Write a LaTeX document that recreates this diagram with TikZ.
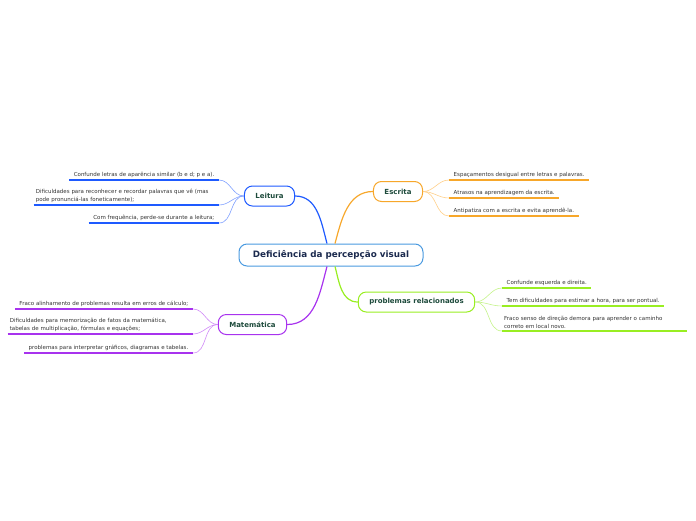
\documentclass[tikz,border=0pt]{standalone}
\usepackage{fontspec}
\setmainfont{DejaVu Sans}
\usepackage{xcolor}
\usetikzlibrary{positioning}
\definecolor{leitblue}{HTML}{1E5AFF}
\definecolor{leitsub}{HTML}{7FA0FF}
\definecolor{escorange}{HTML}{F7A72A}
\definecolor{escsub}{HTML}{FFD08A}
\definecolor{probgreen}{HTML}{99EE22}
\definecolor{probsub}{HTML}{C4F38A}
\definecolor{matpurple}{HTML}{A833EE}
\definecolor{matsub}{HTML}{D08AF7}
\definecolor{rootline}{HTML}{4A9AE0}
\definecolor{roottext}{HTML}{1B2A4E}
\definecolor{topictext}{HTML}{1E4B3C}
\tikzset{
  root/.style={
    draw=rootline,
    line width=1pt,
    rounded corners=8pt,
    fill=white,
    minimum width=184pt,
    minimum height=22pt,
    font=\fontsize{8.8}{10}\selectfont\bfseries,
    text=roottext
  },
  topic/.style={
    line width=1pt,
    rounded corners=8pt,
    fill=white,
    inner xsep=11pt,
    minimum height=20pt,
    font=\fontsize{7}{8}\selectfont\bfseries,
    text=topictext
  },
  leaf/.style={
    align=left,
    inner xsep=4.5pt,
    inner ysep=2.5pt,
    font=\fontsize{5.5}{8}\selectfont,
    text=black!80
  },
  wrapped/.style={leaf, inner xsep=2pt, text width=181pt},
  branch/.style={line width=1.2pt},
  twig/.style={line width=0.6pt},
  underline/.style={line width=1.5pt}
}
\begin{document}
\begin{tikzpicture}[x=1pt,y=-1pt]
  \useasboundingbox (0,0) rectangle (696,520);

  \node[root] (root) at (331,255) {Deficiência da percepção visual};

  \node[topic, draw=leitblue] (leitura) at (269.5,196) {Leitura};
  \node[topic, draw=escorange] (escrita) at (398,191.5) {Escrita};
  \node[topic, draw=probgreen] (problemas) at (416.5,302) {problemas relacionados};
  \node[topic, draw=matpurple] (matematica) at (252.5,324.5) {Matemática};

  % Leitura
  \node[leaf, anchor=south east] (leit1) at (219,180) {Confunde letras de aparência similar (b e d; p e a).};
  \node[wrapped, anchor=south east] (leit2) at (219,205) {Dificuldades para reconhecer e recordar palavras que vê (mas\\pode pronunciá-las foneticamente);};
  \node[leaf, anchor=south east] (leit3) at (219,223) {Com frequência, perde-se durante a leitura;};

  % Escrita
  \node[leaf, anchor=south west] (esc1) at (449,180) {Espaçamentos desigual entre letras e palavras.};
  \node[leaf, anchor=south west] (esc2) at (449,198) {Atrasos na aprendizagem da escrita.};
  \node[leaf, anchor=south west] (esc3) at (449,216) {Antipatiza com a escrita e evita aprendê-la.};

  % problemas relacionados
  \node[leaf, anchor=south west] (prob1) at (502,288) {Confunde esquerda e direita.};
  \node[leaf, anchor=south west] (prob2) at (502,306) {Tem dificuldades para estimar a hora, para ser pontual.};
  \node[wrapped, anchor=south west] (prob3) at (502,331) {Fraco senso de direção demora para aprender o caminho\\correto em local novo.};

  % Matematica
  \node[leaf, anchor=south east] (mat1) at (193,309) {Fraco alinhamento de problemas resulta em erros de cálculo;};
  \node[wrapped, anchor=south east] (mat2) at (193,334) {Dificuldades para memorização de fatos da matemática,\\tabelas de multiplicação, fórmulas e equações;};
  \node[leaf, anchor=south east] (mat3) at (193,353) {problemas para interpretar gráficos, diagramas e tabelas.};

  \draw[branch, leitblue] ([xshift=-4pt]root.north) to[out=105,in=0] (leitura.east);
  \draw[branch, escorange] ([xshift=4pt]root.north) to[out=75,in=180] (escrita.west);
  \draw[branch, matpurple] ([xshift=-4pt]root.south) to[out=-105,in=0] (matematica.east);
  \draw[branch, probgreen] ([xshift=4pt]root.south) to[out=-75,in=180] (problemas.west);

  \foreach \n in {leit1,leit2,leit3} {
    \draw[twig, leitsub] (leitura.west) to[out=180,in=0] (\n.south east);
    \draw[underline, leitblue] (\n.south west) -- (\n.south east);
  }
  \foreach \n in {esc1,esc2,esc3} {
    \draw[twig, escsub] (escrita.east) to[out=0,in=180] (\n.south west);
    \draw[underline, escorange] (\n.south west) -- (\n.south east);
  }
  \foreach \n in {prob1,prob2,prob3} {
    \draw[twig, probsub] (problemas.east) to[out=0,in=180] (\n.south west);
    \draw[underline, probgreen] (\n.south west) -- (\n.south east);
  }
  \foreach \n in {mat1,mat2,mat3} {
    \draw[twig, matsub] (matematica.west) to[out=180,in=0] (\n.south east);
    \draw[underline, matpurple] (\n.south west) -- (\n.south east);
  }
\end{tikzpicture}
\end{document}
